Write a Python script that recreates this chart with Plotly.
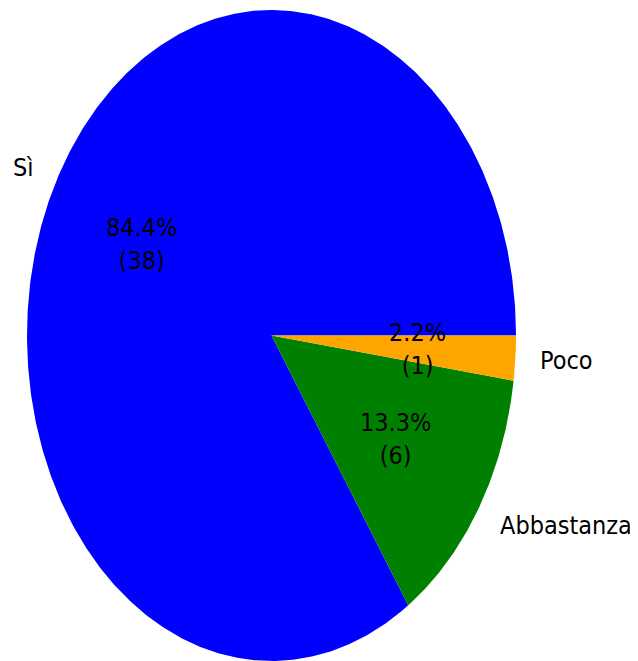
import numpy as np
import plotly.graph_objects as go

labels = ["Sì", "Abbastanza", "Poco"]
values = [38, 6, 1]
colors = ["#0000ff", "#008000", "#ffa500"]

total = sum(values)
fracs = [v / total for v in values]

fig = go.Figure()

FONT = "DejaVu Sans Condensed, DejaVu Sans, sans-serif"
FS = 25

start = 0.0
annotations = []
for lab, v, f, c in zip(labels, values, fracs, colors):
    a0 = start * 2 * np.pi
    a1 = (start + f) * 2 * np.pi
    n = max(int(f * 720), 8)
    th = np.linspace(a0, a1, n)
    xs = np.concatenate([[0], np.cos(th), [0]])
    ys = np.concatenate([[0], np.sin(th), [0]])
    fig.add_trace(go.Scatter(x=xs, y=ys, fill="toself", fillcolor=c,
                             mode="lines", line=dict(width=0, color=c),
                             hoverinfo="skip", showlegend=False))
    mid = (a0 + a1) / 2
    lx, ly = 1.1 * np.cos(mid), 1.1 * np.sin(mid)
    annotations.append(dict(x=lx, y=ly, text=lab, showarrow=False, borderpad=0,
                            borderwidth=0,
                            xanchor="right" if lx < 0 else "left", yanchor="middle",
                            font=dict(family=FONT, size=FS, color="black")))
    px, py = 0.6 * np.cos(mid), 0.6 * np.sin(mid)
    annotations.append(dict(x=px, y=py, text=f"{f*100:.1f}%<br>({v})", showarrow=False,
                            xanchor="center", yanchor="middle",
                            font=dict(family=FONT, size=FS, color="black")))
    start += f

# page body has an 8px default margin; the figure is offset by it
OFF = 8
W, H = 638 - OFF, 661 - OFF
cx, cy, rx, ry = 271.5 - OFF, 335.5 - OFF, 244.5, 325.5
fig.update_layout(
    width=W, height=H,
    margin=dict(l=0, r=0, t=0, b=0),
    paper_bgcolor="white", plot_bgcolor="white",
    xaxis=dict(range=[-cx / rx, (W - cx) / rx], visible=False, fixedrange=True),
    yaxis=dict(range=[(cy - H) / ry, cy / ry], visible=False, fixedrange=True),
    annotations=annotations,
)
fig.write_html("out.html")
